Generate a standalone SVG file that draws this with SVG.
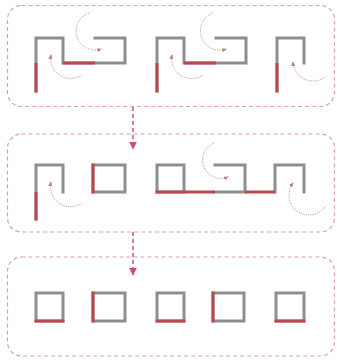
<svg xmlns="http://www.w3.org/2000/svg" width="337" height="360" viewBox="0 0 337 360">
<defs>
<style>
.panel{fill:none;stroke:#d9a0b0;stroke-width:1.2;stroke-dasharray:4 3}
.wall{fill:none;stroke:#8e8e8e;stroke-width:3;stroke-linejoin:miter;stroke-linecap:square}
.red{fill:none;stroke:#b84a4e;stroke-width:3;stroke-linecap:butt}
.arc{fill:none;stroke:#b98080;stroke-width:1;stroke-dasharray:1 1.3;marker-end:url(#ah)}
.conn{fill:none;stroke:#c8508a;stroke-width:1.5;stroke-dasharray:4 3;marker-end:url(#ch)}
</style>
<marker id="ah" viewBox="0 0 10 10" refX="8" refY="5" markerWidth="5" markerHeight="5" orient="auto" markerUnits="userSpaceOnUse">
<path d="M0,1 L10,5 L0,9 z" fill="#b98080"/>
</marker>
<marker id="ch" viewBox="0 0 10 10" refX="9" refY="5" markerWidth="8" markerHeight="8" orient="auto" markerUnits="userSpaceOnUse">
<path d="M0,0 L10,5 L0,10 z" fill="#c8508a"/>
</marker>
</defs>
<rect width="337" height="360" fill="#ffffff"/>
<g id="panel1">
<rect class="panel" x="7.5" y="5.5" width="327" height="101" rx="14"/>
<g id="p1s1">
<path class="wall" d="M36,91 V38 H63 V63 H125 V38 H95"/>
<path class="red" d="M36,63 V92.5 M63,63 H95"/>
<path class="arc" d="M89,13 A18,18 0 1 0 101,49"/>
<path class="arc" d="M82,75 A20,20 0 0 1 51,55"/>
</g>
<g id="p1s2">
<path class="wall" d="M157,91 V38 H184 V63 H246 V38 H216"/>
<path class="red" d="M157,63 V92.5 M184,63 H216"/>
<path class="arc" d="M213,13 A18,18 0 1 0 226,49"/>
<path class="arc" d="M203,75 A20,20 0 0 1 172,55"/>
</g>
<g id="p1s3">
<path class="wall" d="M277,91 V38 H304 V63"/>
<path class="red" d="M277,63 V92.5"/>
<path class="arc" d="M325,77 A20,20 0 0 1 293,62"/>
</g>
</g>
<g id="panel2">
<rect class="panel" x="7.5" y="134" width="327" height="98" rx="14"/>
<g id="p2s1">
<path class="wall" d="M36,219 V165 H63 V192"/>
<path class="red" d="M36,192 V220.5"/>
<path class="arc" d="M82,203 A20,20 0 0 1 51,182"/>
</g>
<g id="p2s2">
<rect class="wall" x="93" y="165" width="32" height="27"/>
<path class="red" d="M93,163.5 V193.5"/>
</g>
<g id="p2s3">
<rect class="wall" x="157" y="165" width="27" height="27"/>
<path class="wall" d="M215,192 H245 V165 H215 M275,192 V165 H304 V192"/>
<path class="red" d="M155.5,192 H215 M245,192 H275"/>
<path class="arc" d="M214,143 A17,17 0 1 0 228,177"/>
<path class="arc" d="M325,207 A20,20 0 0 1 293,183"/>
</g>
</g>
<g id="panel3">
<rect class="panel" x="7.5" y="257" width="327" height="99" rx="14"/>
<g id="p3s1"><rect class="wall" x="36" y="293" width="27" height="28"/><path class="red" d="M34.5,321 H64.5"/></g>
<g id="p3s2"><rect class="wall" x="93" y="293" width="32" height="28"/><path class="red" d="M93,291.5 V322.5"/></g>
<g id="p3s3"><rect class="wall" x="157" y="293" width="27" height="28"/><path class="red" d="M155.5,321 H185.5"/></g>
<g id="p3s4"><rect class="wall" x="213" y="293" width="31" height="28"/><path class="red" d="M213,291.5 V322.5"/></g>
<g id="p3s5"><rect class="wall" x="276" y="293" width="28" height="28"/><path class="red" d="M274.5,321 H305.5"/></g>
</g>
<g id="connectors">
<path class="conn" d="M133,107 V149"/>
<path class="conn" d="M133,232 V275"/>
</g>
</svg>
